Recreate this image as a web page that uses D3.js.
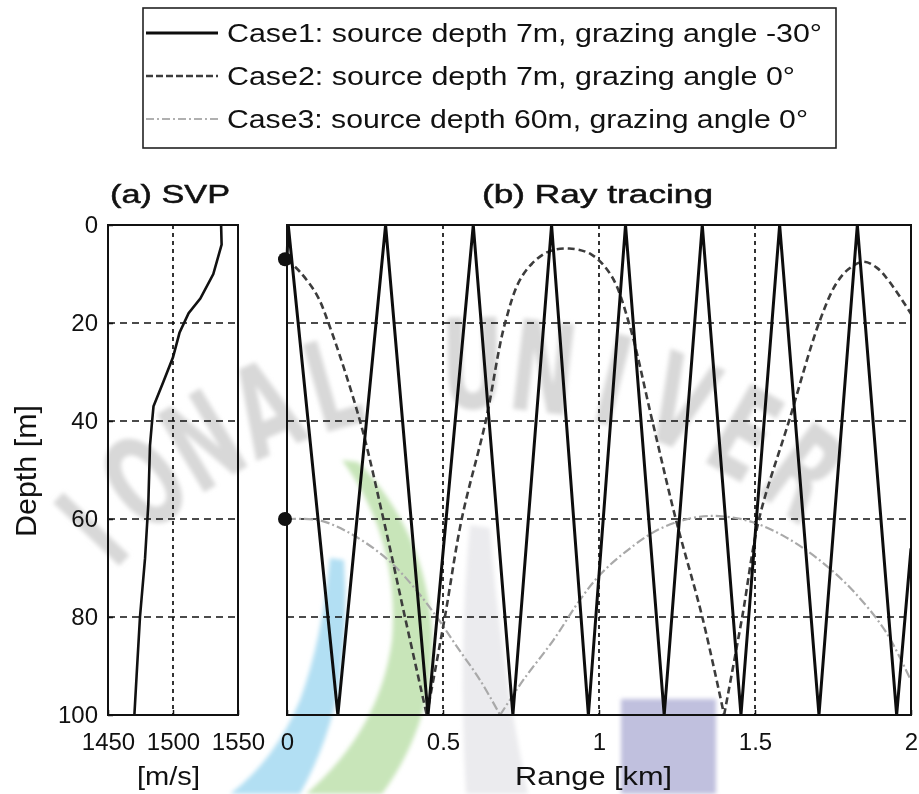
<!DOCTYPE html>
<html>
<head>
<meta charset="utf-8">
<script src="https://cdn.jsdelivr.net/npm/d3@7"></script>
<style>
body { margin: 0; background: #fff; }
text { font-family: "Liberation Sans", Arial, sans-serif; fill: #111; }
</style>
</head>
<body>
<script>
// ---- data ----
// (a) sound speed profile
var svpDepth = [0, 4, 10, 15, 18, 22, 27, 32, 37, 41, 45, 57, 68, 80, 92, 100];
var svpSpeed = [1537, 1537.4, 1531, 1521, 1512, 1505, 1500, 1492.6, 1485, 1483.6, 1482.3, 1481, 1478.5, 1474.6, 1472, 1470.3];

// (b) ray paths: range [km], depth [m]
var case1Range = [0, 0.004, 0.163, 0.316, 0.452, 0.597, 0.724, 0.848, 0.966, 1.085, 1.209, 1.331, 1.455, 1.579, 1.705, 1.828, 1.954, 2.0];
var case1Depth = [7, 0, 100, 0, 100, 0, 100, 0, 100, 0, 100, 0, 100, 0, 100, 0, 100, 66];

var case2Range = [0, 0.042, 0.095, 0.133, 0.234, 0.309, 0.378, 0.448, 0.506, 0.56, 0.637, 0.699, 0.754, 0.829, 0.904, 0.975, 1.04, 1.096, 1.171, 1.246, 1.331, 1.401, 1.459, 1.513, 1.609, 1.705, 1.76, 1.80, 1.847, 1.89, 1.93, 2.0];
var case2Depth = [7, 9.6, 14.2, 20, 40, 60, 80, 100, 80, 60, 40, 20, 10.4, 5.7, 4.8, 6, 10.4, 20, 40, 60, 80, 100, 80, 60, 40, 20, 12, 9, 7.5, 8.7, 11.5, 18.1];

var case3Range = [0, 0.106, 0.213, 0.325, 0.405, 0.48, 0.544, 0.619, 0.683, 0.757, 0.854, 0.939, 1.003, 1.085, 1.192, 1.299, 1.385, 1.491, 1.598, 1.705, 1.812, 1.919, 2.0];
var case3Depth = [60, 60.3, 63.3, 68.4, 73.8, 80, 86, 92.9, 100, 92.9, 84.7, 76.5, 71.4, 66.7, 62.1, 59.8, 59.4, 60.6, 63.7, 68.3, 74.5, 83, 93];

var sourceDepths = [7, 60];

var legendLabels = [
  "Case1: source depth 7m, grazing angle -30\u00b0",
  "Case2: source depth 7m, grazing angle 0\u00b0",
  "Case3: source depth 60m, grazing angle 0\u00b0"
];

var depthTicks = [0, 20, 40, 60, 80, 100];
var depthGrid = [20, 40, 60, 80];
var speedTicks = [1450, 1500, 1550];
var speedGrid = [1500];
var rangeTicks = [0, 0.5, 1, 1.5, 2];
var rangeGrid = [0.5, 1, 1.5];

var width = 919, height = 794;

var svg = d3.select('body').append('svg')
  .attr('width', width)
  .attr('height', height);

var y = d3.scaleLinear().domain([0, 100]).range([225, 715]);
var xS = d3.scaleLinear().domain([1450, 1550]).range([108, 238]);
var xR = d3.scaleLinear().domain([0, 2]).range([287, 911]);

function zip(a, b) {
  return a.map(function (v, i) { return [v, b[i]]; });
}

// ---- faint university watermark behind the chart ----
function watermark() {
  var defs = svg.append('defs');
  defs.append('filter').attr('id', 'soft')
    .append('feGaussianBlur').attr('stdDeviation', 2);

  var wm = svg.append('g').attr('filter', 'url(#soft)');
  wm.append('path').attr('d', 'M330,558 Q322,640 300,700 Q275,760 230,794 L300,794 Q330,740 340,680 Q348,620 344,560 Z')
    .attr('fill', '#b2dff3');
  wm.append('path').attr('d', 'M342,460 Q400,540 392,640 Q380,730 306,794 L382,794 Q436,720 432,630 Q425,530 358,462 Z')
    .attr('fill', '#c8e5b9');
  wm.append('path').attr('d', 'M470,525 Q458,650 466,794 L528,794 Q500,660 490,528 Z')
    .attr('fill', '#ebebee');
  wm.append('rect').attr('x', 621).attr('y', 699).attr('width', 95).attr('height', 95)
    .attr('fill', '#c0c0de');

  // letters fully inside the picture only
  var letters = 'NATIONAL UNIVERSITY'.split('');
  var cx = 480, cy = 900, r = 535, a0 = -159.1, step = 7.59;
  var shown = letters.map(function (d, i) { return { ch: d, i: i }; })
    .filter(function (d) { return d.i >= 3 && d.i <= 14 && d.ch !== ' '; });
  wm.selectAll('text.wm').data(shown).enter().append('text')
    .attr('class', 'wm')
    .attr('text-anchor', 'middle')
    .attr('dominant-baseline', 'central')
    .attr('transform', function (d) {
      var a = a0 + d.i * step, rad = a * Math.PI / 180;
      return 'translate(' + (cx + r * Math.cos(rad)) + ',' + (cy + r * Math.sin(rad)) + ') rotate(' + (a + 90) + ') scale(0.62,1)';
    })
    .style('font-family', '"DejaVu Sans", sans-serif')
    .style('font-weight', 'bold')
    .style('font-size', '125px')
    .style('fill', '#d8d8d8')
    .text(function (d) { return d.ch; });
}

function grid(x0, x1, xScale, xGrid) {
  var g = svg.append('g');
  g.selectAll('line.h').data(depthGrid).enter().append('line')
    .attr('x1', x0).attr('x2', x1)
    .attr('y1', y).attr('y2', y)
    .attr('stroke', '#111').attr('stroke-width', 1.7)
    .attr('stroke-dasharray', '7,5');
  g.selectAll('line.v').data(xGrid).enter().append('line')
    .attr('x1', xScale).attr('x2', xScale)
    .attr('y1', y(0)).attr('y2', y(100))
    .attr('stroke', '#111').attr('stroke-width', 1.7)
    .attr('stroke-dasharray', '4,4');
}

function box(x0, x1) {
  svg.append('rect')
    .attr('x', x0).attr('y', y(0))
    .attr('width', x1 - x0).attr('height', y(100) - y(0))
    .attr('fill', 'none').attr('stroke', '#111').attr('stroke-width', 2);
}

function bottomAxis(scale, ticks, fmt) {
  var g = svg.append('g')
    .attr('transform', 'translate(0,' + y(100) + ')')
    .call(d3.axisBottom(scale).tickValues(ticks).tickFormat(fmt).tickSize(-5).tickPadding(18));
  g.select('.domain').remove();
  g.selectAll('line').attr('stroke', '#111').attr('stroke-width', 1.5);
  g.selectAll('text').style('font-size', '24px').style('font-family', '"Liberation Sans", Arial, sans-serif').attr('fill', '#111');
}

// split a ray at bottom reflections so refraction arcs stay smooth
function rayPath(data) {
  var line = d3.line()
    .x(function (d) { return xR(d[0]); })
    .y(function (d) { return y(d[1]); })
    .curve(d3.curveCatmullRom.alpha(0.5));
  var parts = [], cur = [];
  data.forEach(function (d, i) {
    cur.push(d);
    if (d[1] === 100 && i > 0 && i < data.length - 1) {
      parts.push(cur);
      cur = [d];
    }
  });
  parts.push(cur);
  return parts.map(function (p) { return line(p); }).join('');
}

function svpPanel() {
  grid(xS(1450), xS(1550), xS, speedGrid);

  var line = d3.line()
    .x(function (d) { return xS(d[1]); })
    .y(function (d) { return y(d[0]); });
  svg.append('path')
    .datum(zip(svpDepth, svpSpeed))
    .attr('d', line)
    .attr('fill', 'none').attr('stroke', '#111').attr('stroke-width', 2.6);

  box(xS(1450), xS(1550));

  var ya = svg.append('g')
    .attr('transform', 'translate(' + xS(1450) + ',0)')
    .call(d3.axisLeft(y).tickValues(depthTicks).tickSize(-5).tickPadding(10));
  ya.select('.domain').remove();
  ya.selectAll('line').attr('stroke', '#111').attr('stroke-width', 1.5);
  ya.selectAll('text').style('font-size', '24px').style('font-family', '"Liberation Sans", Arial, sans-serif').attr('fill', '#111');

  bottomAxis(xS, speedTicks, d3.format('d'));

  svg.append('text').attr('x', 110).attr('y', 203)
    .attr('textLength', 120).attr('lengthAdjust', 'spacingAndGlyphs')
    .style('font-size', '26px').style('stroke', '#111').style('stroke-width', 0.5)
    .text('(a) SVP');
  svg.append('text').attr('x', 137).attr('y', 785)
    .attr('textLength', 63).attr('lengthAdjust', 'spacingAndGlyphs')
    .style('font-size', '25px')
    .text('[m/s]');
  svg.append('text')
    .attr('transform', 'translate(36,471) rotate(-90)')
    .attr('text-anchor', 'middle')
    .attr('textLength', 132).attr('lengthAdjust', 'spacingAndGlyphs')
    .style('font-size', '29px')
    .text('Depth [m]');
}

function rayPanel() {
  grid(xR(0), xR(2), xR, rangeGrid);

  svg.append('clipPath').attr('id', 'rayclip')
    .append('rect').attr('x', xR(0) - 10).attr('y', y(0))
    .attr('width', xR(2) - xR(0) + 10).attr('height', y(100) - y(0));

  var g = svg.append('g').attr('clip-path', 'url(#rayclip)');

  g.append('path').attr('d', rayPath(zip(case3Range, case3Depth)))
    .attr('fill', 'none').attr('stroke', '#a9a9a9').attr('stroke-width', 2.2)
    .attr('stroke-dasharray', '9,3,2,3');
  g.append('path').attr('d', rayPath(zip(case2Range, case2Depth)))
    .attr('fill', 'none').attr('stroke', '#3c3c3c').attr('stroke-width', 2.6)
    .attr('stroke-dasharray', '7,4');
  g.append('path').attr('d', d3.line()
      .x(function (d) { return xR(d[0]); })
      .y(function (d) { return y(d[1]); })(zip(case1Range, case1Depth)))
    .attr('fill', 'none').attr('stroke', '#0d0d0d').attr('stroke-width', 3)
    .attr('stroke-linejoin', 'miter');

  box(xR(0), xR(2));

  svg.selectAll('circle.src').data(sourceDepths).enter().append('circle')
    .attr('class', 'src')
    .attr('cx', xR(0) - 2).attr('cy', y)
    .attr('r', 7).attr('fill', '#111');

  bottomAxis(xR, rangeTicks, d3.format('~g'));

  svg.append('text').attr('x', 482).attr('y', 203)
    .attr('textLength', 231).attr('lengthAdjust', 'spacingAndGlyphs')
    .style('font-size', '26px').style('stroke', '#111').style('stroke-width', 0.5)
    .text('(b) Ray tracing');
  svg.append('text').attr('x', 515).attr('y', 785)
    .attr('textLength', 157).attr('lengthAdjust', 'spacingAndGlyphs')
    .style('font-size', '25px')
    .text('Range [km]');
}

function legend() {
  var styles = [
    { stroke: '#0d0d0d', dash: null, w: 3 },
    { stroke: '#3c3c3c', dash: '7,3', w: 2.6 },
    { stroke: '#b0b0b0', dash: '8,3,2,3', w: 2.2 }
  ];
  var lens = [595, 568, 581];
  var g = svg.append('g');
  g.append('rect').attr('x', 143).attr('y', 8).attr('width', 693).attr('height', 140)
    .attr('fill', '#fff').attr('stroke', '#222').attr('stroke-width', 1.6);
  var rows = g.selectAll('g.row').data(legendLabels).enter().append('g')
    .attr('transform', function (d, i) { return 'translate(0,' + (33 + i * 43) + ')'; });
  rows.append('line').attr('x1', 146).attr('x2', 218)
    .attr('stroke', function (d, i) { return styles[i].stroke; })
    .attr('stroke-width', function (d, i) { return styles[i].w; })
    .attr('stroke-dasharray', function (d, i) { return styles[i].dash; });
  rows.append('text').attr('x', 227).attr('y', 9)
    .attr('textLength', function (d, i) { return lens[i]; })
    .attr('lengthAdjust', 'spacingAndGlyphs')
    .style('font-size', '25px')
    .text(function (d) { return d; });
}

watermark();
svpPanel();
rayPanel();
legend();
</script>
</body>
</html>
